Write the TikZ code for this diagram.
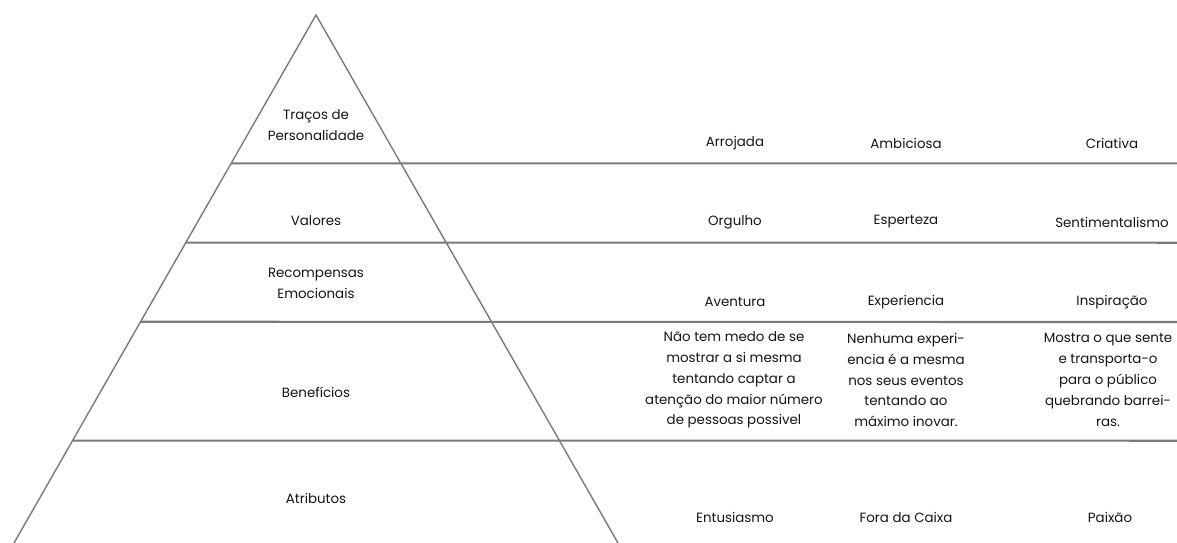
\documentclass[tikz,border=0pt]{standalone}
\usepackage{fontspec}
\setmainfont{Poppins}
\usetikzlibrary{calc}
\definecolor{linegray}{HTML}{7A7A7A}
\definecolor{textgray}{HTML}{141414}
\tikzstyle{layer}=[align=center, inner sep=0pt, text=textgray, font=\fontsize{13.4}{20.8}\selectfont]
\tikzstyle{cell}=[layer]
\tikzstyle{side}=[draw=linegray, line width=1.4pt]
\tikzstyle{rule}=[draw=linegray, line width=2.1pt]
\newcommand{\layer}{\node[layer]}
\newcommand{\cell}{\node[cell]}

\begin{document}
\begin{tikzpicture}[x=1pt, y=-1pt]
            \useasboundingbox (0,0) rectangle (1177,543);
            \coordinate (top) at (316,15);
            \coordinate (bl) at (14,543);
            \coordinate (br) at (618,543);
            \coordinate (r1) at (1177,163.3);
            \coordinate (r2) at (1177,242.7);
            \coordinate (r3) at (1177,322);
            \coordinate (r4) at (1177,440.7);

            % pyramid and rows
            \draw[side] (bl) -- (top) -- (br);
            \path[rule]
            ($(top)!0.281!(bl)$) edge (r1)
            ($(top)!0.431!(bl)$) edge (r2)
            ($(top)!0.581!(bl)$) edge (r3)
            ($(top)!0.806!(bl)$) edge (r4)
            ;

            \layer (tracos) at (316,125) {Traços de\\Personalidade};
            \layer (valores) at (316,221) {Valores};
            \layer (recomp) at (316,283) {Recompensas\\Emocionais};
            \layer (benef) at (316,392) {Benefícios};
            \layer (atrib) at (316,498) {Atributos};

            \cell (t1) at (735,143) {Arrojada};
            \cell (t2) at (906,143) {Ambiciosa};
            \cell (t3) at (1112,143) {Criativa};
            \cell (v1) at (735,222) {Orgulho};
            \cell (v2) at (906,222) {Esperteza};
            \cell (v3) at (1112,222) {Sentimentalismo};
            \cell (e1) at (735,302) {Aventura};
            \cell (e2) at (906,302) {Experiencia};
            \cell (e3) at (1112,302) {Inspiração};
            \cell (b1) at (734,380) {Não tem medo de se\\mostrar a si mesma\\tentando captar a\\atenção do maior número\\de pessoas possivel};
            \cell (b2) at (906,380) {Nenhuma experi-\\encia é a mesma\\nos seus eventos\\tentando ao\\máximo inovar.};
            \cell (b3) at (1108,380) {Mostra o que sente\\e transporta-o\\para o público\\quebrando barrei-\\ras.};
            \cell (a1) at (735,517) {Entusiasmo};
            \cell (a2) at (906,517) {Fora da Caixa};
            \cell (a3) at (1110,517) {Paixão};
        \end{tikzpicture}
\end{document}
